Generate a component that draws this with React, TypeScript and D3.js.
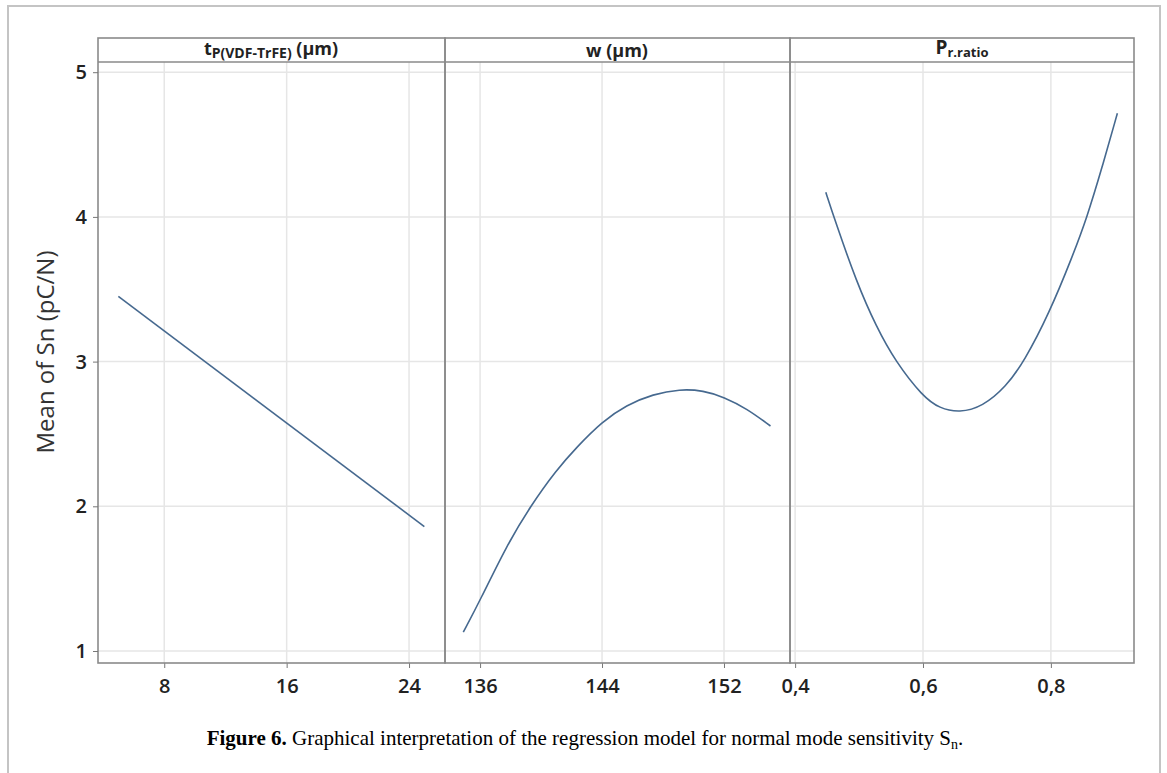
import * as d3 from 'd3';
import React, { useEffect, useRef } from 'react';

// y axis (shared)
const yTicks = [1, 2, 3, 4, 5];

// panel 1 : t P(VDF-TrFE) (µm)
const tpTicks = [8, 16, 24];
const tpX = [5, 25];
const tpY = [3.45, 1.86];

// panel 2 : w (µm)
const wTicks = [136, 144, 152];
const wX = [134.9, 136, 137.75, 139.3, 141, 142.35, 144, 145.6, 147.35, 149.1, 150.65, 152, 153.5, 155.05];
const wY = [1.13, 1.35, 1.73, 2.0, 2.25, 2.41, 2.585, 2.70, 2.775, 2.81, 2.80, 2.755, 2.675, 2.555];

// panel 3 : P r.ratio
const prTicks = [0.4, 0.6, 0.8];
const prX = [0.448, 0.462, 0.496, 0.527, 0.557, 0.6, 0.626, 0.657, 0.693, 0.73, 0.758, 0.797, 0.834, 0.856, 0.88, 0.904];
const prY = [4.17, 3.98, 3.55, 3.24, 3.0, 2.757, 2.677, 2.647, 2.688, 2.827, 3.0, 3.33, 3.73, 3.99, 4.34, 4.716];

const width = 1167;
const height = 773;

const App = () => {
    const ref = useRef(null);

    useEffect(() => {
        const svg = d3.select(ref.current);
        svg.selectAll('*').remove();

        const top = 62;      // below header strip
        const bottom = 663;  // x axis line
        const headTop = 38;
        const lineColor = '#46698f';
        const gridColor = '#e6e6e6';
        const frameColor = '#8a8a8a';
        const tickFont = "'Open Sans', sans-serif";

        // page frame
        svg.append('path')
            .attr('d', 'M8,773 V6 H1160 V773')
            .attr('fill', 'none')
            .attr('stroke', '#c4c4c4')
            .attr('stroke-width', 2);

        const y = d3.scaleLinear().domain([1, 5]).range([651, 72.2]);

        const panels = [
            { left: 98, right: 445, domain: [3.67, 26.35], ticks: tpTicks, xs: tpX, ys: tpY, fmt: d3.format('d') },
            { left: 445, right: 790, domain: [133.7, 156.33], ticks: wTicks, xs: wX, ys: wY, fmt: d3.format('d') },
            { left: 790, right: 1134, domain: [0.392, 0.930], ticks: prTicks, xs: prX, ys: prY, fmt: (d) => d3.format('.1f')(d).replace('.', ',') },
        ];

        // horizontal grid
        svg.append('g').selectAll('line')
            .data(yTicks)
            .enter()
            .append('line')
                .attr('x1', 98).attr('x2', 1134)
                .attr('y1', d => y(d)).attr('y2', d => y(d))
                .attr('stroke', gridColor)
                .attr('stroke-width', 1.5);

        panels.forEach(p => {
            const x = d3.scaleLinear().domain(p.domain).range([p.left, p.right]);

            // vertical grid
            svg.append('g').selectAll('line')
                .data(p.ticks)
                .enter()
                .append('line')
                    .attr('x1', d => x(d)).attr('x2', d => x(d))
                    .attr('y1', top).attr('y2', bottom)
                    .attr('stroke', gridColor)
                    .attr('stroke-width', 1.5);

            // x axis
            const ax = svg.append('g')
                .attr('transform', 'translate(0,' + bottom + ')')
                .call(d3.axisBottom(x).tickValues(p.ticks).tickFormat(p.fmt).tickSize(5).tickSizeOuter(0));
            ax.select('.domain').remove();
            ax.selectAll('line').attr('stroke', '#777');
            ax.selectAll('text')
                .attr('dy', 0).attr('y', 30)
                .style('font-family', tickFont)
                .style('font-size', '20px')
                .style('font-weight', 600)
                .style('fill', '#222');

            const points = p.xs.map((v, i) => [v, p.ys[i]]);
            svg.append('path')
                .datum(points)
                .attr('fill', 'none')
                .attr('stroke', lineColor)
                .attr('stroke-width', 1.6)
                .attr('d', d3.line().x(d => x(d[0])).y(d => y(d[1])).curve(d3.curveBasis));

            // panel box and header
            svg.append('rect')
                .attr('x', p.left).attr('y', headTop)
                .attr('width', p.right - p.left).attr('height', bottom - headTop)
                .attr('fill', 'none')
                .attr('stroke', frameColor)
                .attr('stroke-width', 1.6);
            svg.append('line')
                .attr('x1', p.left).attr('x2', p.right)
                .attr('y1', top).attr('y2', top)
                .attr('stroke', frameColor)
                .attr('stroke-width', 1.6);
        });

        // y axis
        const ay = svg.append('g')
            .attr('transform', 'translate(98,0)')
            .call(d3.axisLeft(y).tickValues(yTicks).tickFormat(d3.format('d')).tickSize(5).tickSizeOuter(0));
        ay.select('.domain').remove();
        ay.selectAll('line').attr('stroke', '#777');
        ay.selectAll('text')
            .attr('x', -11)
            .style('font-family', tickFont)
            .style('font-size', '20px')
            .style('font-weight', 600)
            .style('fill', '#222');

        svg.append('text')
            .attr('transform', 'translate(54,352) rotate(-90)')
            .attr('text-anchor', 'middle')
            .style('font-family', tickFont)
            .style('font-size', '24px')
            .style('fill', '#333')
            .text('Mean of Sn (pC/N)');

        // header labels
        const head = svg.append('g')
            .style('font-family', tickFont)
            .style('font-weight', 700)
            .style('fill', '#222');

        const h1 = head.append('text').attr('x', 271).attr('y', 55).attr('text-anchor', 'middle').style('font-size', '18px');
        h1.append('tspan').text('t');
        h1.append('tspan').attr('dy', 3).style('font-size', '14px').text('P(VDF-TrFE)');
        h1.append('tspan').attr('dy', -3).text(' (µm)');

        head.append('text').attr('x', 617).attr('y', 57).attr('text-anchor', 'middle').style('font-size', '18px').text('w (µm)');

        const h3 = head.append('text').attr('x', 962).attr('y', 54).attr('text-anchor', 'middle').style('font-size', '19px');
        h3.append('tspan').text('P');
        h3.append('tspan').attr('dy', 3).style('font-size', '13px').text('r.ratio');

        // caption
        const cap = svg.append('text')
            .attr('x', 585).attr('y', 745)
            .attr('text-anchor', 'middle')
            .style('font-family', "'Liberation Serif', serif")
            .style('font-size', '21px')
            .style('fill', '#000');
        cap.append('tspan').style('font-weight', 'bold').text('Figure 6.');
        cap.append('tspan').text(' Graphical interpretation of the regression model for normal mode sensitivity S');
        cap.append('tspan').attr('dy', 4).style('font-size', '14px').text('n');
        cap.append('tspan').attr('dy', -4).text('.');
    }, []);

    return (
        <svg ref={ref} width={width} height={height}
            style={{ position: 'absolute', left: 0, top: 0, background: '#fff' }} />
    );
};

export default App;
